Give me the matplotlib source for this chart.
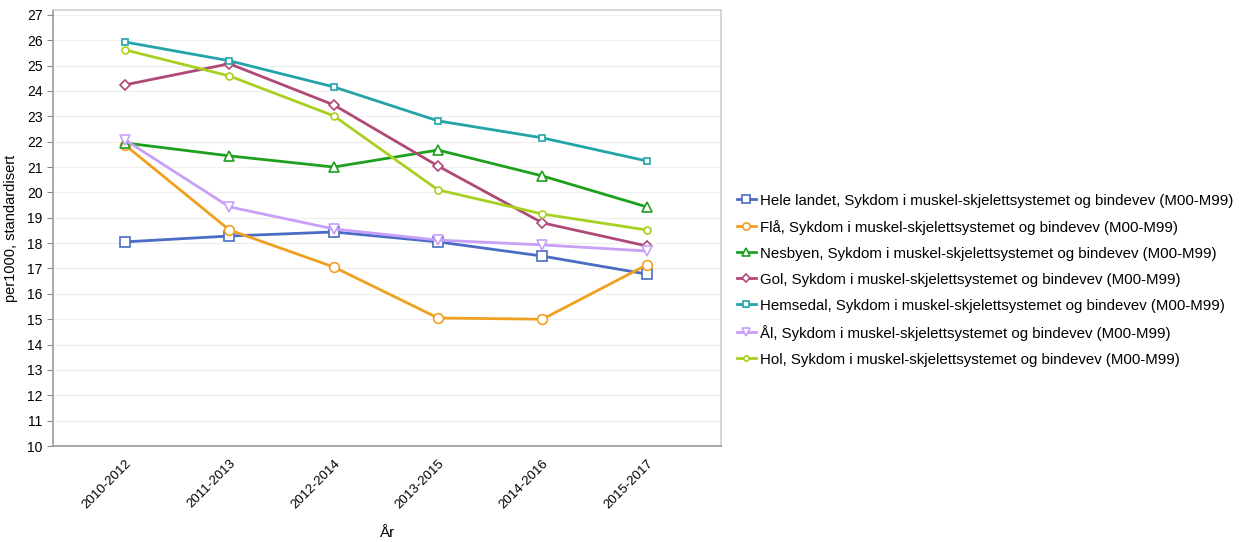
import matplotlib
matplotlib.use("Agg")
import matplotlib.pyplot as plt

plt.rcParams['font.family'] = ['Liberation Sans', 'DejaVu Sans']

years = ["2010-2012", "2011-2013", "2012-2014", "2013-2015", "2014-2016", "2015-2017"]
suffix = ", Sykdom i muskel-skjelettsystemet og bindevev (M00-M99)"

hele_landet = [18.05, 18.28, 18.44, 18.05, 17.49, 16.78]
fla = [21.87, 18.52, 17.06, 15.05, 15.0, 17.14]
nesbyen = [21.95, 21.44, 21.0, 21.67, 20.65, 19.43]
gol = [24.24, 25.07, 23.45, 21.04, 18.8, 17.89]
hemsedal = [25.93, 25.19, 24.16, 22.82, 22.15, 21.24]
al = [22.07, 19.43, 18.56, 18.12, 17.93, 17.69]
hol = [25.62, 24.59, 23.02, 20.1, 19.15, 18.52]

series = [
    ("Hele landet", hele_landet, "#4a6cc4", "s"),
    ("Flå", fla, "#f0a020", "o"),
    ("Nesbyen", nesbyen, "#1ea01e", "^"),
    ("Gol", gol, "#b04878", "D"),
    ("Hemsedal", hemsedal, "#22a4a8", "s"),
    ("Ål", al, "#c8a0f8", "v"),
    ("Hol", hol, "#a8d020", "o"),
]
msizes = {"Hele landet": 7, "Flå": 7, "Nesbyen": 7, "Gol": 5.5, "Hemsedal": 5, "Ål": 7, "Hol": 5}

fig = plt.figure(figsize=(12.47, 5.42), dpi=100)
ax = fig.add_axes([0.0425, 0.177, 0.5355, 0.805])

x = list(range(len(years)))
for name, vals, col, mk in series:
    ax.plot(x, vals, color=col, lw=2, marker=mk, markersize=msizes[name],
            markerfacecolor="white", markeredgecolor=col, markeredgewidth=1.2,
            label=name + suffix)

ax.set_xlim(-0.69, 5.71)
ax.set_ylim(10, 27.2)
ax.set_yticks(range(10, 28))
ax.set_xticks(x)
ax.set_xticklabels(years, rotation=45, ha="right", rotation_mode="anchor", fontsize=9.5)
ax.tick_params(axis="y", labelsize=10, length=4, color="#888888")
ax.tick_params(axis="x", length=0, pad=8)
ax.grid(axis="y", color="#eeeeee", lw=0.8)
ax.set_axisbelow(True)
for s in ["top", "right"]:
    ax.spines[s].set_color("#d0d0d0")
    ax.spines[s].set_linewidth(1.2)
for s in ["left", "bottom"]:
    ax.spines[s].set_color("#999999")
    ax.spines[s].set_linewidth(1.2)

ax.set_ylabel("per1000, standardisert", fontsize=10.5, labelpad=6)
ax.set_xlabel("År", fontsize=11, labelpad=11)

leg = fig.legend(loc="center left", bbox_to_anchor=(0.586, 0.483), frameon=False,
                 fontsize=10.8, handlelength=1.3, handletextpad=0.25, labelspacing=0.8,
                 borderaxespad=0, markerscale=0.75)
for h in leg.legend_handles:
    h.set_linewidth(2)

fig.savefig("out.png", dpi=100)
